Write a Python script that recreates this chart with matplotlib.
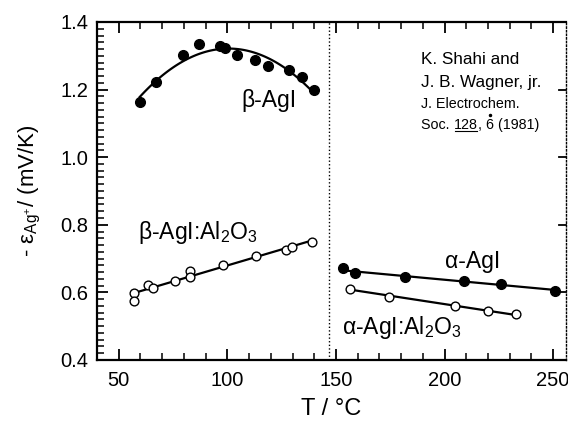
import matplotlib
matplotlib.use('Agg')
import matplotlib.pyplot as plt
import numpy as np
from matplotlib.ticker import MultipleLocator
from matplotlib.lines import Line2D

plt.rcParams['font.family'] = ['Liberation Sans', 'DejaVu Sans']
plt.rcParams['mathtext.fontset'] = 'custom'
plt.rcParams['mathtext.rm'] = 'Liberation Sans'
plt.rcParams['mathtext.it'] = 'Liberation Sans'
plt.rcParams['mathtext.default'] = 'regular'

# beta-AgI (filled circles)
beta_T = [59.6, 67.3, 79.4, 86.8, 96.5, 98.8, 104.4, 112.7, 118.7, 128.3, 134.2, 139.7]
beta_E = [1.162, 1.222, 1.302, 1.334, 1.330, 1.324, 1.302, 1.287, 1.269, 1.259, 1.238, 1.198]

# beta-AgI:Al2O3 (open circles)
beta_al_T = [56.9, 56.9, 63.6, 65.9, 75.8, 83.0, 83.0, 97.8, 113.4, 126.9, 129.6, 139.1]
beta_al_E = [0.599, 0.575, 0.622, 0.612, 0.635, 0.663, 0.646, 0.680, 0.709, 0.726, 0.735, 0.748]

# alpha-AgI (filled circles)
alpha_T = [153.4, 159.0, 181.9, 208.9, 226.0, 250.7]
alpha_E = [0.671, 0.656, 0.644, 0.635, 0.626, 0.604]

# alpha-AgI:Al2O3 (open circles)
alpha_al_T = [156.7, 174.3, 205.0, 220.2, 233.0]
alpha_al_E = [0.611, 0.587, 0.560, 0.544, 0.535]

T_transition = 147

fig = plt.figure(figsize=(5.68, 4.28), dpi=100)
ax = fig.add_axes([0.1708, 0.159, 0.826, 0.7896])


def fit_line(T, E, deg):
    p = np.polyfit(T, E, deg)
    tt = np.linspace(min(T), max(T), 100)
    ax.plot(tt, np.polyval(p, tt), color='k', lw=1.6, zorder=2)


fit_line(beta_T, beta_E, 2)
fit_line(beta_al_T, beta_al_E, 1)
fit_line(alpha_T, alpha_E, 1)
fit_line(alpha_al_T, alpha_al_E, 1)

ax.plot(beta_T, beta_E, 'o', ms=7, color='k', zorder=3)
ax.plot(alpha_T, alpha_E, 'o', ms=7, color='k', zorder=3)
ax.plot(beta_al_T, beta_al_E, 'o', ms=6.3, mfc='white', mec='k', mew=1.0, zorder=3)
ax.plot(alpha_al_T, alpha_al_E, 'o', ms=6.3, mfc='white', mec='k', mew=1.0, zorder=3)

ax.axvline(T_transition, color='k', lw=1.0, ls=(0, (1, 1.6)), zorder=1)

ax.set_xlim(40, 256)
ax.set_ylim(0.4, 1.4)
ax.xaxis.set_major_locator(MultipleLocator(50))
ax.xaxis.set_minor_locator(MultipleLocator(10))
ax.yaxis.set_major_locator(MultipleLocator(0.2))
ax.yaxis.set_minor_locator(MultipleLocator(0.02))
ax.yaxis.set_major_formatter(matplotlib.ticker.FormatStrFormatter('%.1f'))

ax.tick_params(which='both', direction='in', top=True, right=False, labelsize=14.5)
ax.tick_params(which='major', length=8, width=1.3)
ax.tick_params(which='minor', length=5, width=1.1)
ax.tick_params(axis='x', pad=8)
ax.tick_params(axis='y', pad=6)

for s in ['left', 'bottom', 'top']:
    ax.spines[s].set_linewidth(1.6)
ax.spines['right'].set_linestyle((0, (1, 1.6)))
ax.spines['right'].set_linewidth(1.0)

# right side major ticks (pointing inward)
for yv in [0.6, 0.8, 1.0, 1.2]:
    ax.plot([1.0, 0.985], [yv, yv], color='k', lw=1.3,
            transform=ax.get_yaxis_transform(), clip_on=False)

ax.set_xlabel('T / °C', fontsize=17, labelpad=6)
ax.set_ylabel(r'- $ε_{Ag^{+}}$/ (mV/K)', fontsize=16, labelpad=13)

ax.text(106.4, 1.169, 'β-AgI', fontsize=16.5, va='center')
ax.text(58.7, 0.776, r'β-AgI:Al$_2$O$_3$', fontsize=16.5, va='center')
ax.text(200, 0.691, 'α-AgI', fontsize=16.5, va='center')
ax.text(152.8, 0.495, r'α-AgI:Al$_2$O$_3$', fontsize=16.5, va='center')

ax.text(189.3, 1.290, 'K. Shahi and', fontsize=12.3, va='center')
ax.text(189.3, 1.222, 'J. B. Wagner, jr.', fontsize=12.3, va='center')
ax.text(189.3, 1.157, 'J. Electrochem.', fontsize=10.3, va='center')
t1 = ax.text(189.3, 1.095, 'Soc. ', fontsize=10.3, va='center')
t2 = ax.annotate('128', xy=(1, 0), xycoords=t1, va='bottom', fontsize=10.3)
t3 = ax.annotate(', ', xy=(1, 0), xycoords=t2, va='bottom', fontsize=10.3)
t4 = ax.annotate('6', xy=(1, 0), xycoords=t3, va='bottom', fontsize=10.3)
t5 = ax.annotate(' (1981)', xy=(1, 0), xycoords=t4, va='bottom', fontsize=10.3)

# underline under "128" and the dot above "6"
fig.canvas.draw()
inv = fig.transFigure.inverted()
bb = t2.get_window_extent()
x0, y0 = inv.transform((bb.x0 + 1, bb.y0 + 1.5))
x1, _ = inv.transform((bb.x1 - 1, bb.y0 + 1.5))
fig.add_artist(Line2D([x0, x1], [y0, y0], color='k', lw=0.8))
bb6 = t4.get_window_extent()
dx, dy = inv.transform(((bb6.x0 + bb6.x1) / 2, bb6.y1 + 3.5))
fig.add_artist(Line2D([dx], [dy], marker='o', ms=1.5, color='k', lw=0))

fig.savefig('out.png', dpi=100)
